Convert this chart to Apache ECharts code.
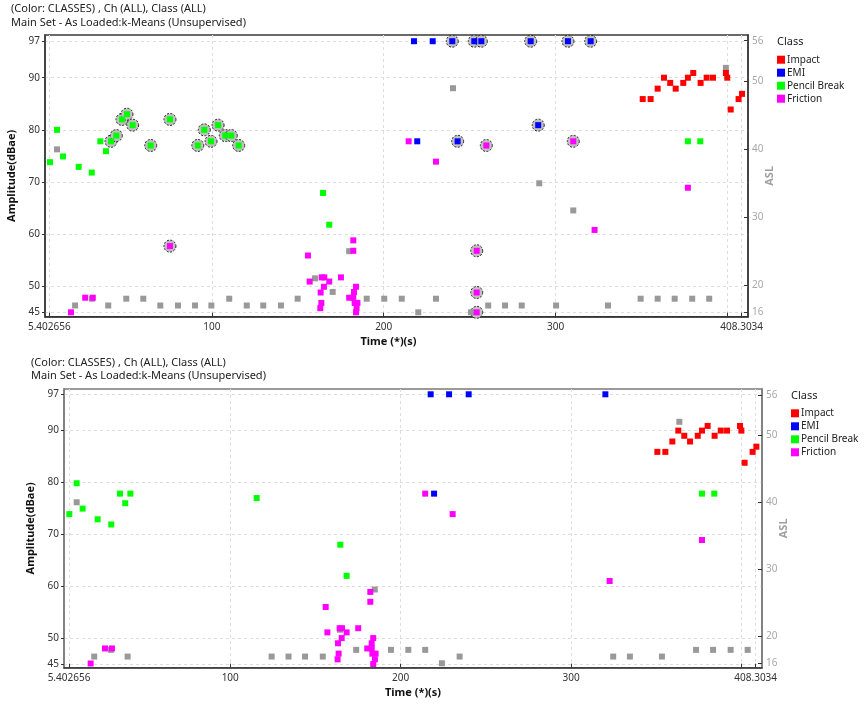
<!DOCTYPE html>
<html><head><meta charset="utf-8">
<script src="https://cdn.jsdelivr.net/npm/echarts@6/dist/echarts.min.js"></script>
<style>html,body{margin:0;padding:0;background:#fff}#c{width:864px;height:705px}</style>
</head><body><div id="c"></div>
<script>
// ---- tick labels ----
const xTickLabels = [5.402656, 100, 200, 300, 408.3034];
const xTickMarks = [5.402656, 100, 200, 300, 400, 408.3034];
const ampTicks = [45, 50, 60, 70, 80, 90, 97];
const aslTicks = [16, 20, 30, 40, 50, 56];
const classNames = ['Impact', 'EMI', 'Pencil Break', 'Friction'];

// ---- top chart data: [time, amplitude, marked] ----
const topImpact = [[350.7,85.9],[355.3,85.9],[359.4,87.9],[363.1,90.0],[366.7,89.0],[369.9,87.9],[374.3,89.0],[377.0,90.0],[380.1,90.9],[384.4,89.0],[387.9,90.0],[391.6,90.0],[399.1,90.9],[399.9,90.0],[401.9,83.9],[406.5,85.9],[408.5,86.9]];
const topEMI = [[217.6,97],[228.5,97],[239.9,97,1],[252.7,97,1],[256.8,97,1],[285.5,97,1],[307.2,97,1],[320.4,97,1],[289.9,80.9,1],[219.5,77.8],[243.0,77.8,1]];
const topPencil = [[5.8,73.8],[9.9,80.0],[13.4,74.9],[22.5,72.9],[30.1,71.8],[35.1,77.8],[38.4,75.9],[41.3,77.8,1],[44.4,78.9,1],[47.7,82.0,1],[50.6,83.0,1],[53.9,80.9,1],[64.4,77.0,1],[75.6,82.0,1],[91.8,77.0,1],[95.6,80.0,1],[99.5,77.8,1],[103.6,80.9,1],[107.8,78.9,1],[111.3,78.9,1],[115.6,77.0,1],[164.7,67.9],[168.3,61.8],[377.0,77.8],[384.2,77.8]];
const topFriction = [[18.0,45.0],[26.3,47.8],[30.7,47.8],[75.6,57.7,1],[155.9,55.9],[156.9,50.9],[163.9,51.7],[165.4,51.7],[168.3,50.9],[175.1,51.7],[165.2,49.9],[163.3,48.8],[163.7,46.8],[163.1,45.8],[182.3,58.8],[182.3,56.8],[183.9,49.9],[182.7,48.9],[179.9,47.8],[182.3,47.8],[183.1,46.8],[184.7,46.8],[184.2,45.8],[183.9,45.0],[214.5,77.8],[230.4,73.9],[259.7,77.0,1],[254.1,56.8,1],[254.1,48.8,1],[254.1,45.0,1],[310.3,77.8,1],[322.7,60.8],[377.0,68.9]];
// gray points: [time, ASL]
const topASL = [[9.9,40],[20.4,17],[30.2,18],[39.7,17],[50.2,18],[60.1,18],[70.0,17],[80.3,17],[90.2,17],[99.7,17],[110.1,18],[120.3,17],[129.9,17],[140.2,17],[149.9,18],[160.0,21],[170.3,19],[179.9,25],[190.1,18],[200.3,18],[210.5,18],[220.1,16],[230.4,18],[240.3,49],[250.8,16],[260.8,17],[270.6,17],[280.3,17],[290.5,35],[300.3,17],[310.3,31],[330.5,17],[349.5,18],[359.4,18],[369.3,18],[379.5,18],[389.4,18],[399.1,52]];

// ---- bottom chart data ----
const botImpact = [[350.6,85.9],[355.3,85.9],[359.4,87.9],[362.9,90.0],[366.4,89.0],[369.8,87.9],[374.3,89.0],[376.8,90.0],[380.1,90.9],[384.2,89.0],[387.8,90.0],[391.5,90.0],[399.1,90.9],[399.9,90.0],[401.8,83.8],[406.5,85.9],[408.7,86.9]];
const botEMI = [[217.6,97],[228.4,97],[239.9,97],[320.1,97],[219.6,77.85]];
const botPencil = [[5.6,73.9],[9.9,79.85],[13.4,74.96],[22.2,72.9],[30.2,71.9],[35.3,77.85],[38.4,76.0],[41.4,77.85],[115.5,77.0],[164.6,68.0],[168.3,62.0],[376.8,77.85],[384.0,77.85]];
const botFriction = [[18.1,45.1],[26.5,48.0],[30.6,48.0],[182.2,58.9],[182.2,57.0],[156.0,56.0],[157.0,51.1],[164.2,51.9],[165.6,51.9],[168.3,51.1],[175.1,51.9],[165.4,50.0],[163.2,49.0],[163.6,47.0],[163.0,45.9],[183.9,50.0],[183.0,49.0],[180.4,48.0],[183.0,48.0],[183.4,47.0],[185.3,47.0],[184.9,45.9],[183.9,45.0],[214.4,77.85],[230.5,73.9],[376.8,68.9],[322.6,61.0]];
const botASL = [[9.9,40],[20.2,17],[30.0,18],[39.8,17],[124.3,17],[134.2,17],[143.9,17],[154.3,17],[164.4,21],[173.9,18],[184.8,27],[194.3,18],[204.5,18],[214.4,18],[224.2,16],[234.6,17],[324.7,17],[334.5,17],[353.3,17],[363.5,52],[373.3,18],[383.3,18],[393.6,18],[403.6,18]];

// ---- styling ----
const FONT = 'Noto Sans, Liberation Sans, Arial, sans-serif';
const classColors = ['#ff0000', '#0000ff', '#00ff00', '#ff00ff'];
const panels = [
  {grid:{left:45, top:35, width:703, height:281.7}, xr:[2.90, 411.97], ar:[44.16, 98.19], sr:[15.35, 56.84],
   frame:'#3a3a3a', classes:[topImpact, topEMI, topPencil, topFriction], asl:topASL, xNamePad:[0,16,0,0]},
  {grid:{left:64, top:389, width:698, height:278.7}, xr:[2.469, 412.0], ar:[44.29, 98.02], sr:[15.34, 56.89],
   frame:'#7a7a7a', classes:[botImpact, botEMI, botPencil, botFriction], asl:botASL, xNamePad:[0,0,0,0]}
];

const grid = [], xAxis = [], yAxis = [], series = [];
panels.forEach((p, i) => {
  grid.push(Object.assign({show:true, borderColor:p.frame, borderWidth:1.5, backgroundColor:'#fff', containLabel:false, outerBoundsMode:'none'}, p.grid));
  xAxis.push({type:'value', gridIndex:i, min:p.xr[0], max:p.xr[1],
    name:'Time (*)(s)', nameLocation:'middle', nameGap:20, nameMoveOverlap:false,
    nameTextStyle:{fontFamily:FONT, fontSize:11, fontWeight:'bold', color:'#111', padding:p.xNamePad},
    axisLine:{show:true, onZero:false, lineStyle:{color:'#333', width:1.5}},
    axisTick:{show:true, inside:true, length:4, customValues:xTickMarks, lineStyle:{color:'#333'}},
    axisLabel:{customValues:xTickLabels, margin:5, fontFamily:FONT, fontSize:10, color:'#333',
      hideOverlap:false, alignMinLabel:'center', alignMaxLabel:'center', formatter:v => String(v)},
    splitLine:{show:true, lineStyle:{color:'#dddddd', type:[3,3]}}});
  yAxis.push({type:'value', gridIndex:i, min:p.ar[0], max:p.ar[1], position:'left',
    name:'Amplitude(dBae)', nameLocation:'middle', nameGap:28, nameRotate:90, nameMoveOverlap:false,
    nameTextStyle:{fontFamily:FONT, fontSize:11, fontWeight:'bold', color:'#111'},
    axisLine:{show:true, onZero:false, lineStyle:{color:p.frame, width:1.5}},
    axisTick:{show:true, inside:false, length:3, customValues:ampTicks, lineStyle:{color:'#333'}},
    axisLabel:{customValues:ampTicks, margin:5, fontFamily:FONT, fontSize:10, color:'#333', hideOverlap:false},
    splitLine:{show:true, lineStyle:{color:'#dddddd', type:[3,3]}}});
  yAxis.push({type:'value', gridIndex:i, min:p.sr[0], max:p.sr[1], position:'right',
    name:'ASL', nameLocation:'middle', nameGap:16, nameRotate:90, nameMoveOverlap:false,
    nameTextStyle:{fontFamily:FONT, fontSize:11, fontWeight:'bold', color:'#a0a0a0'},
    axisLine:{show:true, onZero:false, lineStyle:{color:p.frame, width:1.5}},
    axisTick:{show:true, inside:true, length:4, customValues:aslTicks, lineStyle:{color:'#333'}},
    axisLabel:{customValues:aslTicks, margin:4, fontFamily:FONT, fontSize:10, color:'#a8a8a8', hideOverlap:false},
    splitLine:{show:false}});
  // rings around marked points
  const marked = [];
  p.classes.forEach(arr => arr.forEach(d => { if (d[2] === 1) marked.push([d[0], d[1]]); }));
  if (marked.length) series.push({type:'scatter', name:'marked', xAxisIndex:i, yAxisIndex:2*i, data:marked,
    symbol:'circle', symbolSize:12, z:3, silent:true,
    itemStyle:{color:'#c0c0c0', opacity:1, borderColor:'#222', borderWidth:1, borderType:[2,1.5]}});
  series.push({type:'scatter', name:'ASL', xAxisIndex:i, yAxisIndex:2*i+1, data:p.asl,
    symbol:'rect', symbolSize:6, z:4, itemStyle:{color:'#999999', opacity:1}});
  p.classes.forEach((arr, k) => series.push({type:'scatter', name:classNames[k], xAxisIndex:i, yAxisIndex:2*i,
    data:arr.map(d => [d[0], d[1]]), symbol:'rect', symbolSize:6, z:5, itemStyle:{color:classColors[k], opacity:1}}));
});

const tStyle = {fontFamily:FONT, fontSize:11, fontWeight:'normal', color:'#222', lineHeight:14};
const lgText = {fontFamily:FONT, fontSize:10, color:'#222', lineHeight:13, padding:[0,0,0,-3]};
const option = {
  animation:false,
  backgroundColor:'#fff',
  title:[
    {text:'(Color: CLASSES) , Ch (ALL), Class (ALL)', left:11, top:1.5, padding:0, textStyle:tStyle},
    {text:'Main Set - As Loaded:k-Means (Unsupervised)', left:11, top:15.5, padding:0, textStyle:tStyle},
    {text:'Class', left:777, top:35, padding:0, textStyle:tStyle},
    {text:'(Color: CLASSES) , Ch (ALL), Class (ALL)', left:31, top:356.3, padding:0, textStyle:tStyle},
    {text:'Main Set - As Loaded:k-Means (Unsupervised)', left:31, top:369, padding:0, textStyle:tStyle},
    {text:'Class', left:791, top:388.7, padding:0, textStyle:tStyle}
  ],
  legend:[
    {data:classNames, orient:'vertical', left:777, top:53.2, padding:0, itemGap:0, itemWidth:8, itemHeight:8,
     icon:'rect', selectedMode:false, textStyle:lgText},
    {data:classNames, orient:'vertical', left:791, top:406.8, padding:0, itemGap:0, itemWidth:8, itemHeight:8,
     icon:'rect', selectedMode:false, textStyle:lgText}
  ],
  grid, xAxis, yAxis, series
};
const chart = echarts.init(document.getElementById('c'), null, {renderer:'canvas'});
chart.setOption(option);
</script>
</body></html>
